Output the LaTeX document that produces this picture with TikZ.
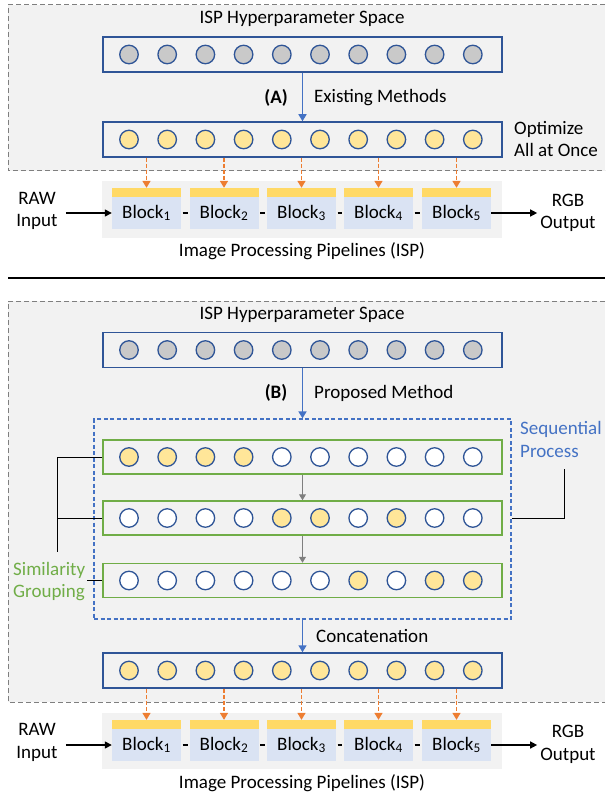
\documentclass[tikz,border=0pt]{standalone}
\usepackage{fontspec}
\setmainfont{Carlito}
\usetikzlibrary{positioning,arrows.meta}

\definecolor{panelgray}{HTML}{F2F2F2}
\definecolor{framegray}{HTML}{7F7F7F}
\definecolor{rowblue}{HTML}{2F5597}
\definecolor{flowblue}{HTML}{4472C4}
\definecolor{dotgray}{HTML}{C9C9C9}
\definecolor{dotyellow}{HTML}{FFE699}
\definecolor{baryellow}{HTML}{FFD966}
\definecolor{blockblue}{HTML}{DAE3F3}
\definecolor{groupgreen}{HTML}{70AD47}
\definecolor{feedorange}{HTML}{ED7D31}

\begin{document}
\begin{tikzpicture}[x=1pt,y=-1pt,
  every node/.style={font=\fontsize{19}{22.5}\selectfont,inner sep=0pt},
  rowbox/.style={draw=rowblue,line width=1.5pt,minimum width=399pt,minimum height=35pt},
  grouprow/.style={rowbox,draw=groupgreen,minimum height=34pt},
  hpdot/.style={circle,draw=rowblue,line width=1.3pt,minimum size=18.5pt},
  blockbar/.style={fill=baryellow,minimum width=69pt,minimum height=9pt},
  blockbox/.style={fill=blockblue,minimum width=69pt,minimum height=32pt},
  frame/.style={framegray,line width=1pt,dash pattern=on 5pt off 3pt},
  flow/.style={flowblue,line width=1.6pt,-{Triangle[length=7pt,width=8pt]}},
  feed/.style={feedorange,line width=1.4pt,dash pattern=on 4pt off 2pt,-{Triangle[length=7pt,width=8pt]}},
  stagearrow/.style={framegray,line width=1pt,-{Triangle[length=6pt,width=7pt]}},
  pipe/.style={black,line width=1.4pt,-{Triangle[length=7pt,width=7pt]}},
  link/.style={black,line width=2.4pt,shorten <=1.5pt,shorten >=1.5pt},
  bracket/.style={black,line width=1pt}]

  \useasboundingbox (0,0) rectangle (605,794);

  % (A) existing methods
  \fill[panelgray] (8,5) rectangle (605,171);
  \draw[frame] (605,5) -- (8,5) -- (8,171) -- (605,171);

  \node (titleA) at (302,19) {ISP Hyperparameter Space};
  \node[rowbox] (hpA) at (302.5,54.5) {};
  \foreach \i in {1,...,10}
    \node[hpdot,fill=dotgray] (hpA-\i) at (90.8+38.2*\i,54.5) {};

  \node[rowbox] (optA) at (302.5,139.5) {};
  \foreach \i in {1,...,10}
    \node[hpdot,fill=dotyellow] (optA-\i) at (90.8+38.2*\i,139.5) {};

  \draw[flow] (hpA) -- (optA);
  \node[font=\fontsize{19}{22.5}\selectfont\bfseries] (tagA) at (276,98) {(A)};
  \node[anchor=west] (methA) at (314,98) {Existing Methods};
  \node[anchor=west,align=left] (noteA) at (514,139) {Optimize\\All at Once};

  % ISP of (A)
  \fill[panelgray] (102,181) rectangle (502,238);
  \foreach \i/\x in {1/146.5,2/224,3/301.5,4/378.5,5/456.5}{
    \node[blockbar] (barA\i) at (\x,192.5) {};
    \node[blockbox] (blkA\i) at (\x,213) {Block\textsubscript{\i}};
    \draw[feed] (optA.south -| barA\i) -- (barA\i.north);
  }
  \foreach \i/\j in {1/2,2/3,3/4,4/5}
    \draw[link] (blkA\i) -- (blkA\j);

  \node[align=center] (rawA) at (37,211) {RAW\\Input};
  \node[align=center] (rgbA) at (568,213) {RGB\\Output};
  \draw[pipe] ([xshift=8pt]rawA.east |- blkA1.west) -- (blkA1.west);
  \draw[pipe,shorten >=3pt] (blkA5.east) -- (rgbA.west |- blkA5.east);
  \node (ispA) at (302,251) {Image Processing Pipelines (ISP)};

  \draw[line width=2pt] (8,278) -- (605,278);

  % (B) proposed method
  \fill[panelgray] (8,301) rectangle (605,702);
  \draw[frame] (605,301) -- (8,301) -- (8,702) -- (605,702);

  \node (titleB) at (302,315) {ISP Hyperparameter Space};
  \node[rowbox] (hpB) at (302.5,350) {};
  \foreach \i in {1,...,10}
    \node[hpdot,fill=dotgray] (hpB-\i) at (90.8+38.2*\i,350) {};

  \node[draw=flowblue,line width=1.2pt,dash pattern=on 4pt off 2.5pt,
        minimum width=417pt,minimum height=200pt] (seqbox) at (302.5,519) {};
  \draw[flow] (hpB) -- (seqbox);
  \node[font=\fontsize{19}{22.5}\selectfont\bfseries] (tagB) at (276,393) {(B)};
  \node[anchor=west] (methB) at (314,393) {Proposed Method};

  \node[grouprow] (grpB1) at (302.5,457) {};
  \foreach \i/\c in {1/dotyellow,2/dotyellow,3/dotyellow,4/dotyellow,5/white,
                     6/white,7/white,8/white,9/white,10/white}
    \node[hpdot,fill=\c] (grpB1-\i) at (90.8+38.2*\i,457) {};

  \node[grouprow] (grpB2) at (302.5,518) {};
  \foreach \i/\c in {1/white,2/white,3/white,4/white,5/dotyellow,
                     6/dotyellow,7/white,8/dotyellow,9/white,10/white}
    \node[hpdot,fill=\c] (grpB2-\i) at (90.8+38.2*\i,518) {};

  \node[grouprow] (grpB3) at (302.5,580.5) {};
  \foreach \i/\c in {1/white,2/white,3/white,4/white,5/white,
                     6/white,7/dotyellow,8/white,9/dotyellow,10/dotyellow}
    \node[hpdot,fill=\c] (grpB3-\i) at (90.8+38.2*\i,580.5) {};

  \draw[stagearrow] (grpB1) -- (grpB2);
  \draw[stagearrow] (grpB2) -- (grpB3);

  \node[anchor=west,align=left,text=flowblue] (seqlab) at (520,439.5) {Sequential\\Process};
  \coordinate (seqtop) at (564,469);
  \draw[bracket] (seqtop) |- (seqbox.east |- grpB2.east);

  \node[anchor=west,align=left,text=groupgreen] (simlab) at (13,581.5) {Similarity\\Grouping};
  \coordinate (simtop) at (57,552);
  \draw[bracket] (grpB1.west) -| (simtop);
  \draw[bracket] (grpB2.west) -- (grpB2.west -| simtop);
  \draw[bracket] ([xshift=2pt]simlab.east |- grpB3.west) -- (grpB3.west);

  \node[rowbox] (optB) at (302.5,670.5) {};
  \foreach \i in {1,...,10}
    \node[hpdot,fill=dotyellow] (optB-\i) at (90.8+38.2*\i,670.5) {};
  \draw[flow] (seqbox) -- (optB);
  \node[anchor=west] (concB) at (316,636) {Concatenation};

  % ISP of (B)
  \fill[panelgray] (102,713) rectangle (502,769);
  \foreach \i/\x in {1/146.5,2/224,3/301.5,4/378.5,5/456.5}{
    \node[blockbar] (barB\i) at (\x,724.5) {};
    \node[blockbox] (blkB\i) at (\x,745) {Block\textsubscript{\i}};
    \draw[feed] (optB.south -| barB\i) -- (barB\i.north);
  }
  \foreach \i/\j in {1/2,2/3,3/4,4/5}
    \draw[link] (blkB\i) -- (blkB\j);

  \node[align=center] (rawB) at (37,742.5) {RAW\\Input};
  \node[align=center] (rgbB) at (568,744.5) {RGB\\Output};
  \draw[pipe] ([xshift=8pt]rawB.east |- blkB1.west) -- (blkB1.west);
  \draw[pipe,shorten >=3pt] (blkB5.east) -- (rgbB.west |- blkB5.east);
  \node (ispB) at (302,783) {Image Processing Pipelines (ISP)};
\end{tikzpicture}
\end{document}
